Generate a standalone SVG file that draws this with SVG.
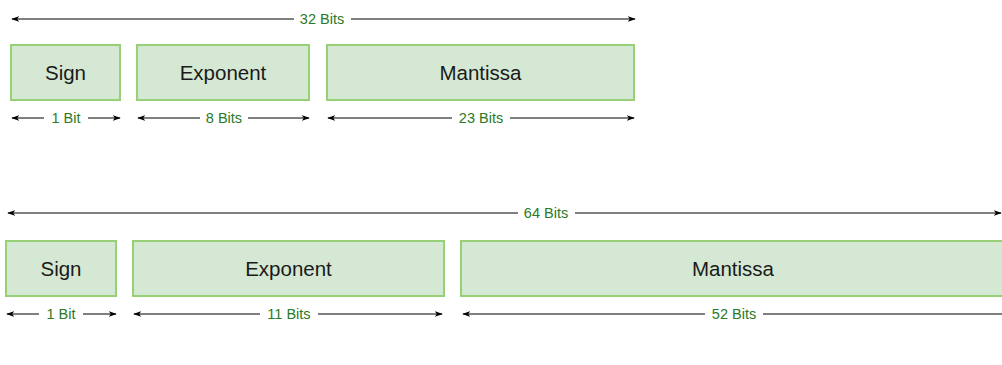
<svg xmlns="http://www.w3.org/2000/svg" width="1002" height="365" viewBox="0 0 1002 365">
  <defs>
    <marker id="ah" viewBox="0 0 10 10" refX="9" refY="5" markerWidth="8" markerHeight="8" orient="auto-start-reverse" markerUnits="userSpaceOnUse">
      <path d="M0,1.5 L10,5 L0,8.5 L2.5,5 Z" fill="#000"/>
    </marker>
    <style>
      .box { fill: #d5e8d4; stroke: #97d077; stroke-width: 2; }
      .name { font-family: "Liberation Sans", Arial, sans-serif; font-size: 20.5px; fill: #1a1a1a; text-anchor: middle; dominant-baseline: central; }
      .dim { stroke: #000; stroke-width: 1; fill: none; marker-start: url(#ah); marker-end: url(#ah); }
      .lbl { font-family: "Liberation Sans", Arial, sans-serif; font-size: 14.5px; fill: #2a7a26; text-anchor: middle; dominant-baseline: central; }
      .bg { fill: #fff; }
    </style>
  </defs>
  <rect width="1002" height="365" fill="#fff"/>

  <!-- 32-bit single precision layout -->
  <g id="sign32"><rect class="box" x="11" y="45" width="109" height="55"/><text class="name" x="65.5" y="72.5">Sign</text></g>
  <g id="exponent32"><rect class="box" x="137" y="45" width="172" height="55"/><text class="name" x="223" y="72.5">Exponent</text></g>
  <g id="mantissa32"><rect class="box" x="327" y="45" width="307" height="55"/><text class="name" x="480.5" y="72.5">Mantissa</text></g>

  <!-- 64-bit double precision layout -->
  <g id="sign64"><rect class="box" x="6" y="241" width="110" height="55"/><text class="name" x="61" y="268.5">Sign</text></g>
  <g id="exponent64"><rect class="box" x="133" y="241" width="311" height="55"/><text class="name" x="288.5" y="268.5">Exponent</text></g>
  <g id="mantissa64"><rect class="box" x="461" y="241" width="545" height="55"/><text class="name" x="733" y="268.5">Mantissa</text></g>

  <!-- width dimension lines -->
  <g id="connectors">
    <line class="dim" x1="12" y1="19" x2="635" y2="19"/>
    <rect class="bg" x="294" y="10" width="57" height="18"/>
    <text class="lbl" x="322" y="19">32 Bits</text>

    <line class="dim" x1="12" y1="118" x2="120" y2="118"/>
    <rect class="bg" x="44" y="110" width="44" height="17"/>
    <text class="lbl" x="66" y="118">1 Bit</text>

    <line class="dim" x1="138" y1="118" x2="309" y2="118"/>
    <rect class="bg" x="200" y="110" width="48" height="17"/>
    <text class="lbl" x="224" y="118">8 Bits</text>

    <line class="dim" x1="328" y1="118" x2="634" y2="118"/>
    <rect class="bg" x="452" y="110" width="58" height="17"/>
    <text class="lbl" x="481" y="118">23 Bits</text>

    <line class="dim" x1="8" y1="213" x2="1001" y2="213"/>
    <rect class="bg" x="518" y="204" width="57" height="18"/>
    <text class="lbl" x="546" y="213">64 Bits</text>

    <line class="dim" x1="7" y1="314" x2="116" y2="314"/>
    <rect class="bg" x="39" y="306" width="44" height="17"/>
    <text class="lbl" x="61" y="314">1 Bit</text>

    <line class="dim" x1="134" y1="314" x2="442" y2="314"/>
    <rect class="bg" x="260" y="306" width="58" height="17"/>
    <text class="lbl" x="289" y="314">11 Bits</text>

    <line class="dim" x1="463" y1="314" x2="1012" y2="314"/>
    <rect class="bg" x="705" y="306" width="58" height="17"/>
    <text class="lbl" x="734" y="314">52 Bits</text>
  </g>
</svg>
